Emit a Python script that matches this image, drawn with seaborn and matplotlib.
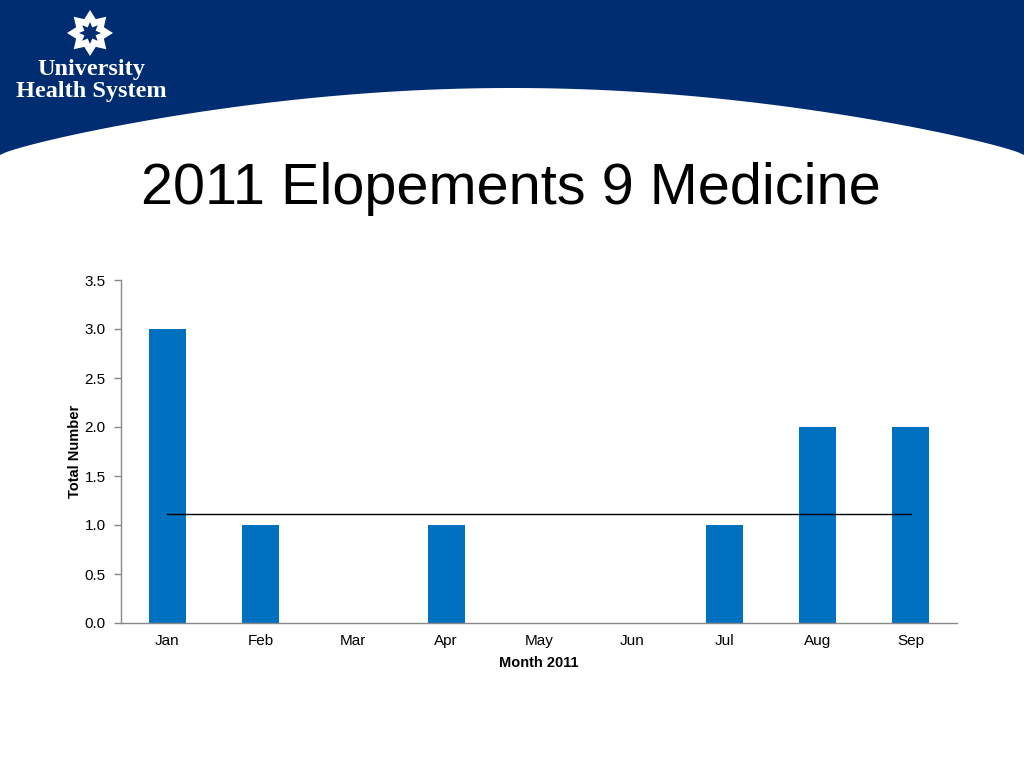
import numpy as np
import pandas as pd
import matplotlib
matplotlib.use("Agg")
import matplotlib.pyplot as plt
import seaborn as sns
from matplotlib.patches import Polygon

months = ["Jan", "Feb", "Mar", "Apr", "May", "Jun", "Jul", "Aug", "Sep"]
counts = [3, 1, 0, 1, 0, 0, 1, 2, 2]
yticks = [0.0, 0.5, 1.0, 1.5, 2.0, 2.5, 3.0, 3.5]

title = "2011 Elopements 9 Medicine"
xlabel = "Month 2011"
ylabel = "Total Number"

sns.set_theme(style="white")
plt.rcParams['font.family'] = ['Liberation Sans', 'DejaVu Sans']
plt.rcParams['text.color'] = 'black'
plt.rcParams['axes.labelcolor'] = 'black'
plt.rcParams['xtick.color'] = 'black'
plt.rcParams['ytick.color'] = 'black'

W, H = 1024, 768
fig = plt.figure(figsize=(W / 100, H / 100), dpi=100)

# Header background
bg = fig.add_axes([0, 0, 1, 1])
bg.set_xlim(0, W)
bg.set_ylim(H, 0)
bg.axis("off")
xs = np.linspace(0, W, 200)
curve = 155 - (155 - 88) * np.sin(np.pi * xs / W) ** 0.8
bg.fill_between(xs, 0, curve, color="#002D72", lw=0)

# logo star
cx, cy = 90, 33
def star(r_out, r_in, n=8, rot=0):
    pts = []
    for i in range(2 * n):
        a = rot + np.pi * i / n
        r = r_out if i % 2 == 0 else r_in
        pts.append((cx + r * np.cos(a), cy + r * np.sin(a)))
    return pts
bg.add_patch(Polygon(star(23, 15, rot=np.pi / 2), closed=True, color="white", lw=0))
bg.add_patch(Polygon(star(11, 6, rot=np.pi / 2), closed=True, color="#002D72", lw=0))
bg.text(91, 70, "University", color="white", fontsize=17.5, fontweight="bold",
        family=["Liberation Serif", "DejaVu Serif"], ha="center", va="center")
bg.text(91, 91, "Health System", color="white", fontsize=17.5, fontweight="bold",
        family=["Liberation Serif", "DejaVu Serif"], ha="center", va="center")

bg.text(511, 189, title, fontsize=41.5, ha="center", va="center", color="black")

# chart
ax = fig.add_axes([121 / W, 1 - 623 / H, (957 - 121) / W, (623 - 280) / H])
df = pd.DataFrame({"Month": months, "Count": counts})
sns.barplot(data=df, x="Month", y="Count", color="#0070C0", width=0.4,
            saturation=1, ax=ax, edgecolor="none")
mean_val = float(np.mean(counts))
ax.plot([0, len(months) - 1], [mean_val, mean_val], color="black", lw=1)

ax.set_xlim(-0.5, len(months) - 0.5)
ax.set_ylim(0, 3.5)
ax.set_yticks(yticks)
ax.set_yticklabels([f"{v:.1f}" for v in yticks], fontsize=11)
ax.set_xticks(range(len(months)))
ax.set_xticklabels(months, fontsize=11)
ax.set_xticks(np.arange(-0.5, len(months)), minor=True)
ax.tick_params(axis="x", which="major", length=0, pad=8)
ax.tick_params(axis="x", which="minor", length=5, color="#888888", width=1, direction="out")
ax.tick_params(axis="y", length=5, color="#888888", width=1, direction="out", pad=6, left=True)
for s in ["top", "right"]:
    ax.spines[s].set_visible(False)
for s in ["left", "bottom"]:
    ax.spines[s].set_color("#888888")
    ax.spines[s].set_linewidth(1)
ax.set_xlabel(xlabel, fontsize=10.5, fontweight="bold", labelpad=6)
ax.set_ylabel(ylabel, fontsize=10.5, fontweight="bold", labelpad=2)
ax.patch.set_alpha(0)

fig.savefig("out.png", dpi=100)
